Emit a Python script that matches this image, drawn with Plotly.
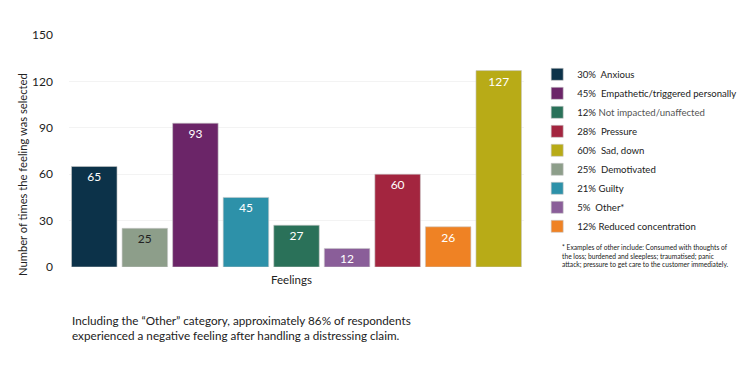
import plotly.graph_objects as go

# ---- data ----
categories = ["Anxious", "Demotivated", "Empathetic/triggered personally", "Guilty",
              "Not impacted/unaffected", "Other*", "Pressure", "Reduced concentration", "Sad, down"]
counts = [65, 25, 93, 45, 27, 12, 60, 26, 127]
percent_labels = ["30%&nbsp; Anxious", "25%&nbsp; Demotivated", "45%&nbsp; Empathetic/triggered personally",
                  "21% Guilty", "12% <span style='color:#555555'>Not impacted/unaffected</span>",
                  "5%&nbsp; Other*", "28%&nbsp; Pressure",
                  "12% Reduced concentration", "60%&nbsp; Sad, down"]
legend_rank = [1, 6, 2, 7, 3, 8, 4, 9, 5]
y_ticks = [0, 30, 60, 90, 120, 150]

# ---- style ----
colors = ["#0c3249", "#8d9e8a", "#6b2568", "#2d91a9", "#2a7159", "#8a5e99", "#a3253f", "#ef8224", "#b8ab17"]
label_colors = ["white", "#222222", "white", "white", "white", "white", "white", "white", "white"]
FONT = "Lato"

fig = go.Figure()
for cat, val, lab, rank, col, lcol in zip(categories, counts, percent_labels, legend_rank, colors, label_colors):
    fig.add_trace(go.Bar(
        x=[cat], y=[val], name=lab, legendrank=rank,
        marker=dict(color=col, line=dict(color="rgba(200,200,200,0.6)", width=1)),
        text=[str(val)], textposition="inside", insidetextanchor="end",
        textangle=0, constraintext="none",
        textfont=dict(color=lcol, size=12, family=FONT),
        cliponaxis=False,
    ))

fig.update_layout(
    width=742, height=357,
    margin=dict(l=61, r=226, t=27, b=98, autoexpand=False),
    paper_bgcolor="white", plot_bgcolor="white",
    barmode="relative", bargap=0.1,
    font=dict(family=FONT, color="#222222", size=11),
    showlegend=True,
    legend=dict(x=1.029, y=0.893, xanchor="left", yanchor="top",
                font=dict(size=9.6, color="#222222", family=FONT),
                itemwidth=30, traceorder="normal", tracegroupgap=0),
    xaxis=dict(showticklabels=False, showline=False, ticks="", showgrid=False),
    yaxis=dict(range=[0, 150], tickvals=y_ticks, showgrid=True, gridcolor="#f3f3f3",
               zeroline=False, showline=False, ticks="", ticklen=0, ticklabelstandoff=15,
               tickfont=dict(size=12, color="#222222")),
    annotations=[
        dict(text="Number of times the feeling was selected", textangle=-90,
             x=-0.101, y=0.397, xref="paper", yref="paper", xanchor="center", yanchor="middle",
             showarrow=False, font=dict(size=11.2, color="#222222")),
        dict(text="Feelings", x=0.489, y=-0.056, xref="paper", yref="paper",
             xanchor="center", yanchor="middle",
             showarrow=False, font=dict(size=11.5, color="#222222")),
        dict(text="* Examples of other include: Consumed with thoughts of<br>the loss; burdened and sleepless; traumatised; panic<br>attack; pressure to get care to the customer immediately.",
             x=1.079, y=0.112, xref="paper", yref="paper", xanchor="left", yanchor="top",
             align="left", showarrow=False,
             font=dict(size=6.7, color="#222222", family="Liberation Sans Narrow, Lato")),
        dict(text="Including the \u201cOther\u201d category, approximately 86% of respondents<br>experienced a negative feeling after handling a distressing claim.",
             x=0.002, y=-0.19, xref="paper", yref="paper", xanchor="left", yanchor="top",
             align="left", showarrow=False, font=dict(size=11.7, color="#222222")),
    ],
)

fig.write_html("out.html")
